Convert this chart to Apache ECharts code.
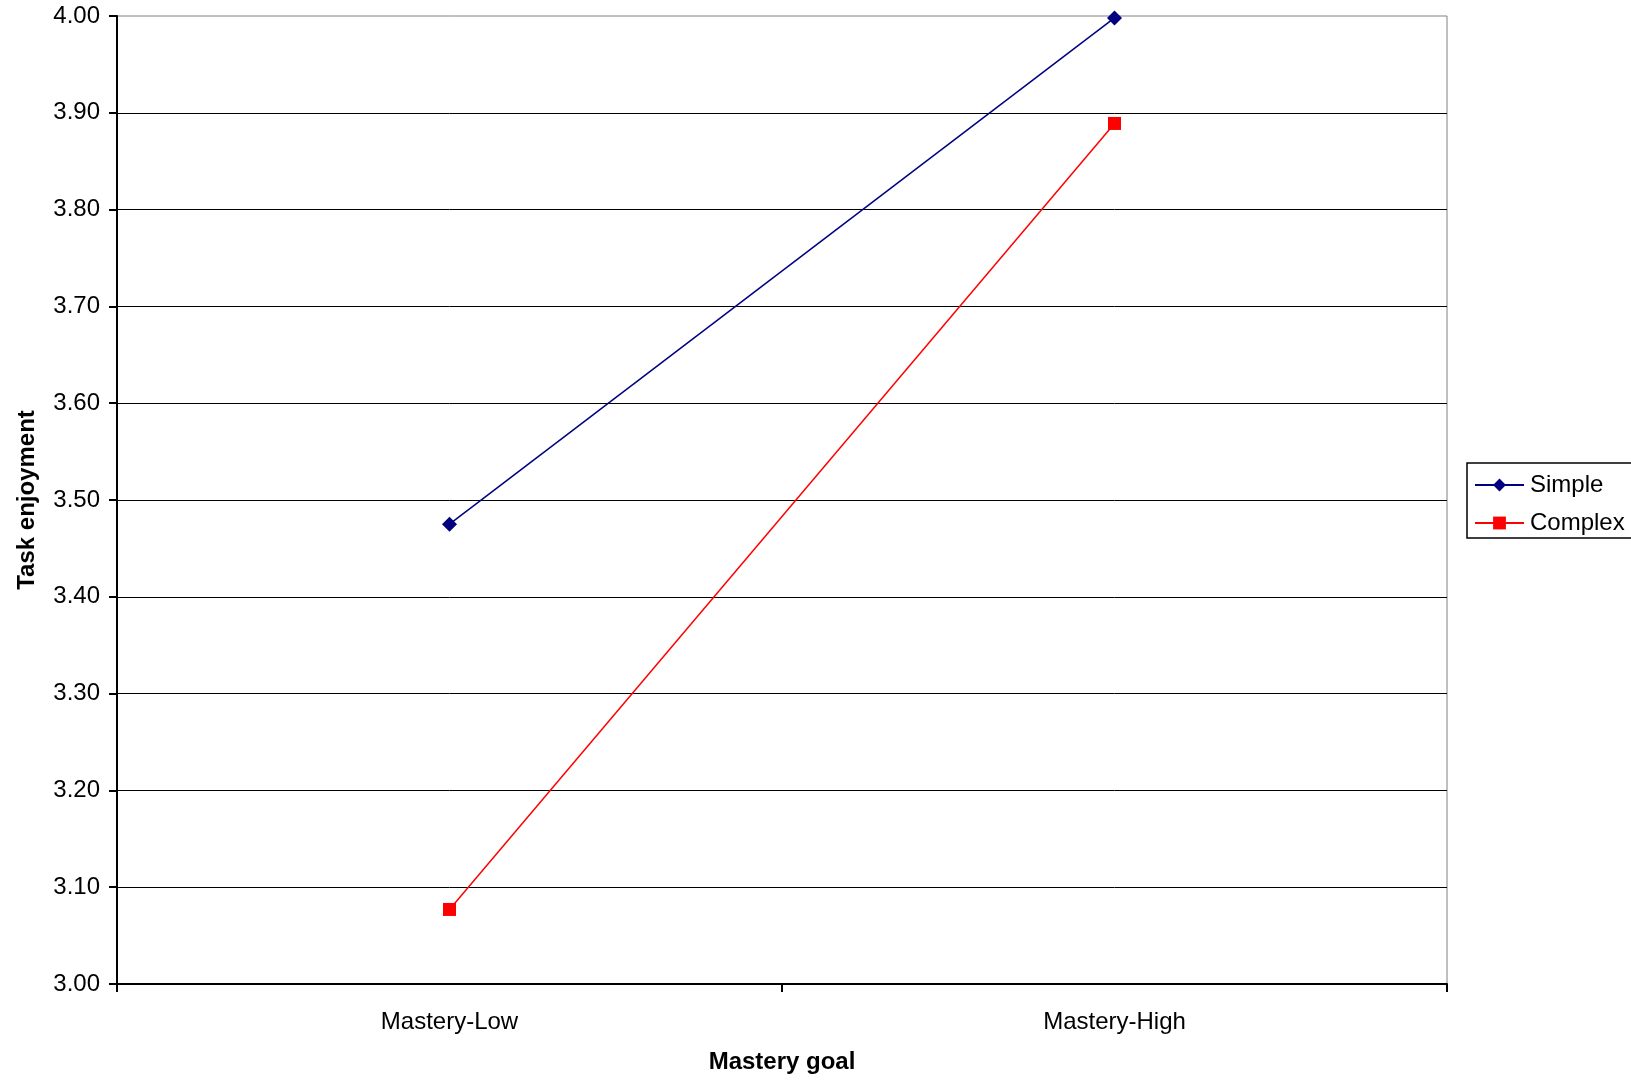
<!DOCTYPE html>
<html>
<head>
<meta charset="utf-8">
<script src="https://cdn.jsdelivr.net/npm/echarts@6/dist/echarts.min.js"></script>
<style>
html,body{margin:0;padding:0;background:#fff;}
#chart{width:1631px;height:1081px;}
</style>
</head>
<body>
<div id="chart"></div>
<script>
const categories = ['Mastery-Low', 'Mastery-High'];
const simpleValues = [3.475, 3.998];
const complexValues = [3.077, 3.889];
const seriesNames = ['Simple', 'Complex'];
const xTitle = 'Mastery goal';
const yTitle = 'Task enjoyment';

const FONT = 'Liberation Sans, Arial, sans-serif';
const chart = echarts.init(document.getElementById('chart'), null, {renderer: 'canvas'});
chart.setOption({
  backgroundColor: '#ffffff',
  animation: false,
  grid: {
    left: 117, right: 184, top: 16, bottom: 97,
    show: true, borderColor: '#808080', borderWidth: 1, backgroundColor: 'transparent'
  },
  legend: {
    orient: 'vertical',
    left: 1467, top: 463,
    data: seriesNames,
    borderColor: '#000', borderWidth: 1.5,
    padding: [10, 60, 3, 7],
    itemGap: 14,
    itemWidth: 49, itemHeight: 16,
    textStyle: {fontFamily: FONT, fontSize: 24, color: '#000', padding: [0,0,0,1]}
  },
  xAxis: {
    type: 'category',
    data: categories,
    boundaryGap: true,
    name: xTitle,
    nameLocation: 'middle',
    nameGap: 66,
    nameTextStyle: {fontFamily: FONT, fontSize: 24, fontWeight: 'bold', color: '#000'},
    axisLine: {lineStyle: {color: '#000', width: 2}},
    axisTick: {show: true, alignWithLabel: false, length: 8, lineStyle: {color: '#000', width: 2}},
    axisLabel: {fontFamily: FONT, fontSize: 24, color: '#000', margin: 26},
    splitLine: {show: false}
  },
  yAxis: {
    type: 'value',
    min: 3, max: 4, interval: 0.1,
    name: yTitle,
    nameLocation: 'middle',
    nameGap: 78,
    nameTextStyle: {fontFamily: FONT, fontSize: 24, fontWeight: 'bold', color: '#000'},
    axisLine: {show: true, lineStyle: {color: '#000', width: 2}},
    axisTick: {show: true, length: 8, lineStyle: {color: '#000', width: 2}},
    axisLabel: {fontFamily: FONT, fontSize: 24, color: '#000', margin: 17,
      formatter: v => v.toFixed(2)},
    splitLine: {show: true, showMaxLine: false, lineStyle: {color: '#000', width: 1}}
  },
  series: [
    {
      name: seriesNames[0], type: 'line', data: simpleValues,
      symbol: 'diamond', symbolSize: 15,
      lineStyle: {color: '#000080', width: 1.5},
      itemStyle: {color: '#000080'}
    },
    {
      name: seriesNames[1], type: 'line', data: complexValues,
      symbol: 'rect', symbolSize: 13,
      lineStyle: {color: '#ff0000', width: 1.5},
      itemStyle: {color: '#ff0000'}
    }
  ]
});
</script>
</body>
</html>
